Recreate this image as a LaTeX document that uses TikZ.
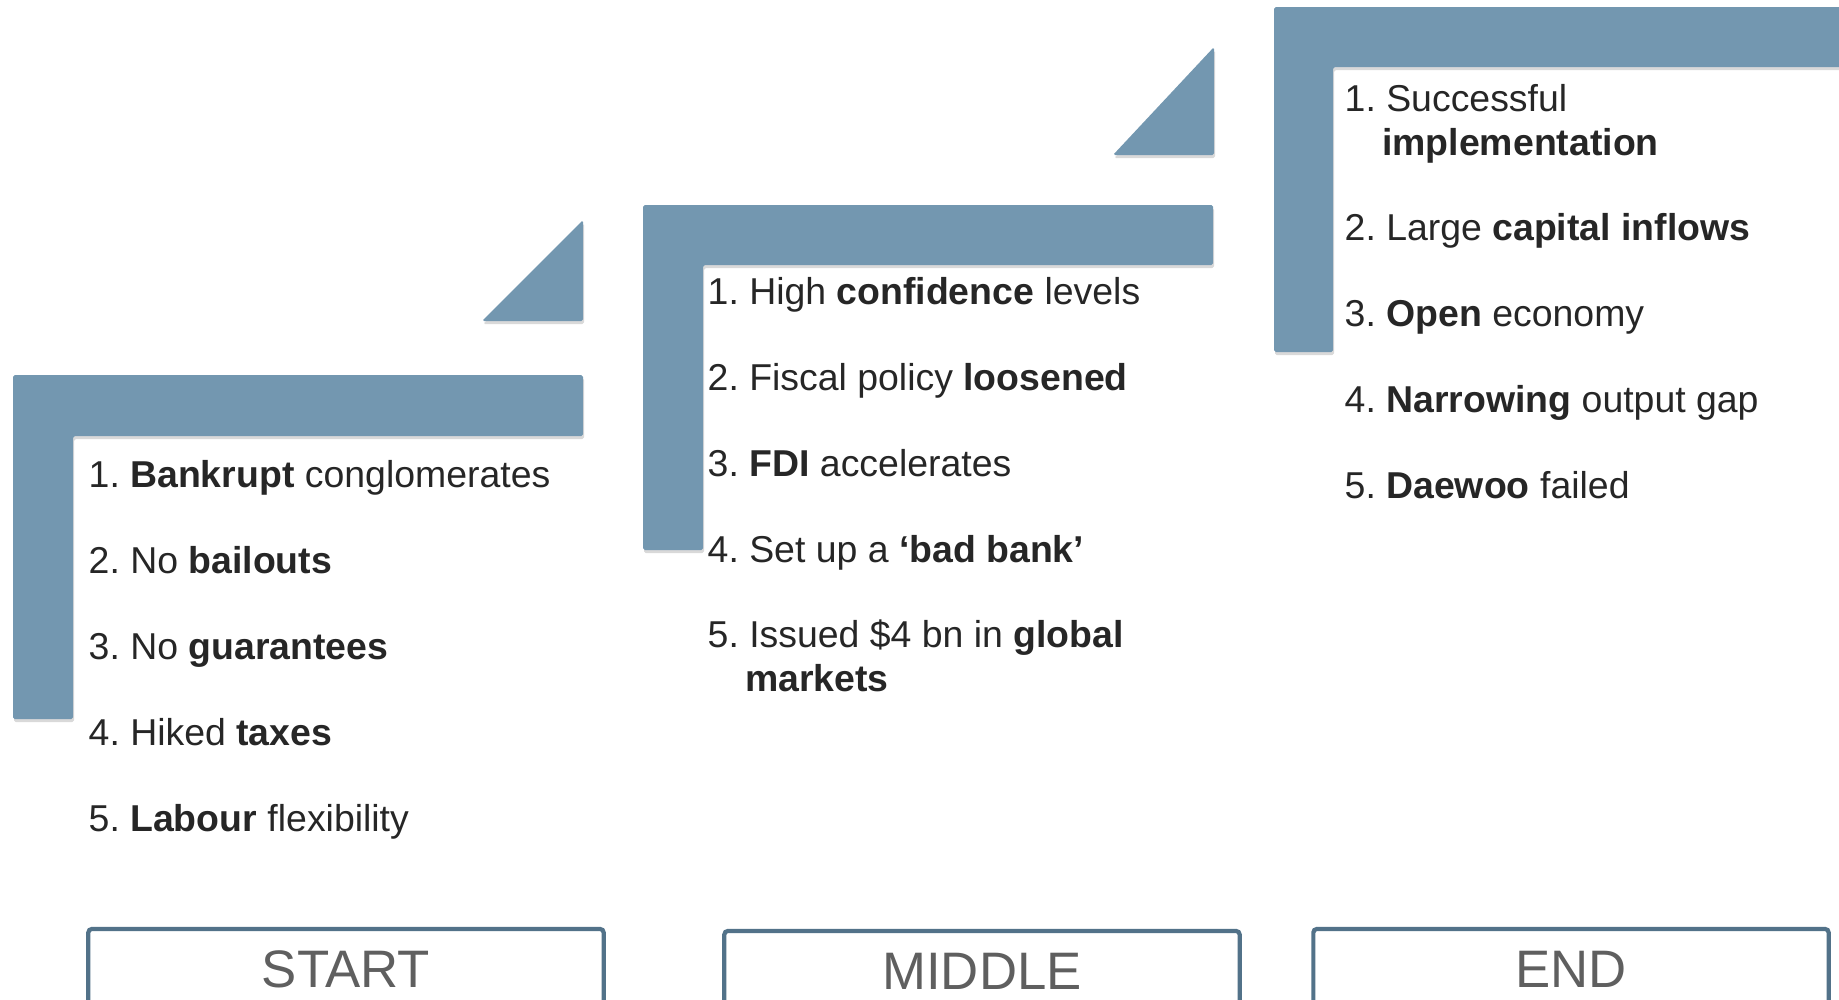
\documentclass[tikz,border=0pt]{standalone}
\usepackage{fontspec}
\setmainfont{Liberation Sans}
\usepackage{tikz}
\usetikzlibrary{shadows}

\definecolor{stepblue}{HTML}{7397B0}
\definecolor{boxline}{HTML}{527289}
\definecolor{itemtext}{HTML}{262626}
\definecolor{labeltext}{HTML}{5F5F5F}
\frenchspacing

\begin{document}
\begin{tikzpicture}[x=0.01cm,y=-0.01cm,
  stepshape/.style={fill=stepblue,rounded corners=0.5pt,
    drop shadow={shadow xshift=0.3pt,shadow yshift=-0.9pt,opacity=0.3}},
  item/.style={anchor=base west,inner sep=0pt,align=left,text=itemtext,
    font=\fontsize{10.64pt}{12.5pt}\selectfont},
  stagebox/.style={draw=boxline,line width=1.2pt,rounded corners=1pt,
    minimum width=5.15cm,minimum height=0.8cm,text=labeltext,
    font=\fontsize{15pt}{18pt}\selectfont}]

\useasboundingbox (0,0) rectangle (1839,1000);
\clip (0,0) rectangle (1839,1000);

% the three steps and their corner wedges
\fill[stepshape] (13,375) -- (583,375) -- (583,436) -- (73,436) -- (73,719) -- (13,719) -- cycle;
\fill[stepshape] (482,321) -- (583,220) -- (583,321) -- cycle;
\fill[stepshape] (643,205) -- (1213,205) -- (1213,265) -- (703,265) -- (703,550) -- (643,550) -- cycle;
\fill[stepshape] (1113,155) -- (1214,47) -- (1214,155) -- cycle;
\fill[stepshape] (1274,7) -- (1850,7) -- (1850,67) -- (1333,67) -- (1333,352) -- (1274,352) -- cycle;

% start (y is the baseline of an item's last line)
\foreach \y/\txt [count=\i] in {
  487/{1. \textbf{Bankrupt} conglomerates},
  573/{2. No \textbf{bailouts}},
  659/{3. No \textbf{guarantees}},
  745/{4. Hiked \textbf{taxes}},
  831/{5. \textbf{Labour} flexibility}}
  \node[item] (s\i) at (88,\y) {\txt};

% middle
\foreach \y/\txt [count=\i] in {
  304/{1. High \textbf{confidence} levels},
  390/{2. Fiscal policy \textbf{loosened}},
  476/{3. \textbf{FDI} accelerates},
  562/{4. Set up a \textbf{‘bad bank’}},
  691/{5. Issued \$4 bn in \textbf{global}\\\hspace*{0.375cm}\textbf{markets}}}
  \node[item] (m\i) at (707,\y) {\txt};

% end
\foreach \y/\txt [count=\i] in {
  155/{1. Successful\\\hspace*{0.375cm}\textbf{implementation}},
  240/{2. Large \textbf{capital inflows}},
  326/{3. \textbf{Open} economy},
  412/{4. \textbf{Narrowing} output gap},
  498/{5. \textbf{Daewoo} failed}}
  \node[item] (e\i) at (1344,\y) {\txt};

\node[stagebox] (startbox)  at (346,969) {START};
\node[stagebox] (middlebox) at (982,971) {MIDDLE};
\node[stagebox] (endbox)    at (1571,969) {END};

\end{tikzpicture}
\end{document}
